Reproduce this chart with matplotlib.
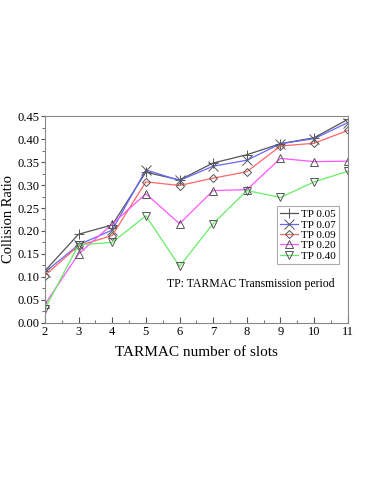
import matplotlib
matplotlib.use("Agg")
import matplotlib.pyplot as plt
from matplotlib.ticker import MultipleLocator

slots = [2, 3, 4, 5, 6, 7, 8, 9, 10, 11]
tp005 = [0.113, 0.193, 0.213, 0.328, 0.311, 0.348, 0.366, 0.390, 0.403, 0.443]
tp007 = [0.110, 0.170, 0.202, 0.333, 0.310, 0.341, 0.354, 0.390, 0.401, 0.436]
tp009 = [0.103, 0.168, 0.190, 0.307, 0.299, 0.315, 0.329, 0.385, 0.391, 0.419]
tp020 = [0.040, 0.150, 0.215, 0.281, 0.216, 0.288, 0.290, 0.358, 0.351, 0.352]
tp040 = [0.030, 0.170, 0.175, 0.233, 0.123, 0.216, 0.288, 0.273, 0.307, 0.330]
labels = ["TP 0.05", "TP 0.07", "TP 0.09", "TP 0.20", "TP 0.40"]

plt.rcParams['font.family'] = ['Liberation Serif', 'DejaVu Serif']

fig = plt.figure(figsize=(3.74, 4.84), dpi=100)
ax = fig.add_axes([0.120, 0.333, 0.810, 0.427])

series = [tp005, tp007, tp009, tp020, tp040]
colors = ['#555555', '#6666ff', '#ff6666', '#ff55ff', '#66ee66']
markers = ['+', 'x', 'D', '^', 'v']
msizes = [6.5, 6.5, 4, 5.5, 5.5]
for vals, c, m, ms, lab in zip(series, colors, markers, msizes, labels):
    ax.plot(slots, vals, color=c, lw=0.9, marker=m, markersize=ms,
            markerfacecolor='none', markeredgecolor='#555555',
            markeredgewidth=0.7, label=lab)

ax.set_xlim(2, 11)
ax.set_ylim(0, 0.45)
ax.xaxis.set_major_locator(MultipleLocator(1))
ax.xaxis.set_minor_locator(MultipleLocator(0.5))
ax.yaxis.set_major_locator(MultipleLocator(0.05))
ax.yaxis.set_minor_locator(MultipleLocator(0.025))
ax.yaxis.set_major_formatter(matplotlib.ticker.FormatStrFormatter('%.2f'))
ax.tick_params(axis='x', which='both', direction='in', color='#555555', labelsize=9, pad=2)
ax.tick_params(axis='x', which='major', length=4)
ax.tick_params(axis='x', which='minor', length=2.5)
ax.tick_params(axis='y', which='both', direction='out', color='#555555', labelsize=9, pad=1)
ax.tick_params(axis='y', which='major', length=3)
ax.tick_params(axis='y', which='minor', length=2)
for s in ax.spines.values():
    s.set_color('#888888')
    s.set_linewidth(0.8)

ax.set_xlabel("TARMAC number of slots", fontsize=11, labelpad=6)
ax.set_ylabel("Collision Ratio", fontsize=10.5, labelpad=2)

leg = ax.legend(loc='upper left', bbox_to_anchor=(0.765, 0.565), fontsize=8,
                frameon=True, fancybox=False, edgecolor='#999999',
                handlelength=1.6, handletextpad=0.3, borderpad=0.3,
                labelspacing=0.05, borderaxespad=0)
leg.get_frame().set_linewidth(0.8)

ax.text(0.68, 0.19, "TP: TARMAC Transmission period", transform=ax.transAxes,
        fontsize=8.5, ha='center', va='center')

fig.savefig("out.png", dpi=100)
